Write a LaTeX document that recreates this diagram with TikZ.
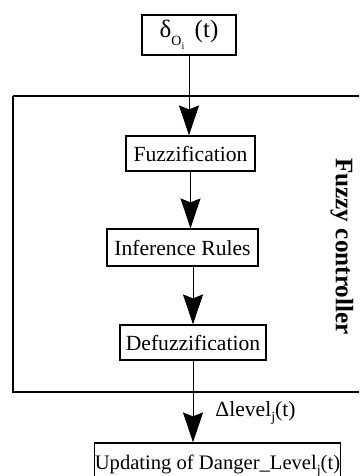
\documentclass[tikz,border=0pt]{standalone}
\usepackage{fontspec}
\setmainfont{Liberation Serif}
\usetikzlibrary{arrows.meta}

\tikzset{
  block/.style={draw, line width=0.6pt, inner sep=0pt, align=center,
                font=\fontsize{10.8}{12}\selectfont},
  flow/.style={line width=0.5pt, -{Stealth[length=15pt, width=10pt, inset=2pt]}},
  frameline/.style={draw, line width=1pt},
}

\begin{document}
\begin{tikzpicture}[x=0.5pt, y=-0.5pt]
  \useasboundingbox (0,0) rectangle (359,476);
  \begin{scope}
    \clip (0,0) rectangle (359,476);

    % controller frame (its right side runs off the page)
    \draw[frameline] (13,96) -- (400,96) (13,96) -- (13,392) -- (400,392);

    % blocks
    \node[block, minimum width=47pt, minimum height=20pt, font=\fontsize{12.5}{14}\selectfont]
      (src) at (189,35) {δ\raisebox{-0.7ex}{\scriptsize O\raisebox{-0.6ex}{\tiny i}}\, (t)};
    \node[block, minimum width=64.5pt, minimum height=17.5pt] (fuzz) at (190.5,153.5) {Fuzzification};
    \node[block, minimum width=75.5pt, minimum height=18.5pt] (infer) at (182.5,247.5) {Inference Rules};
    \node[block, minimum width=73pt, minimum height=17.5pt] (defuzz) at (193,342.5) {Defuzzification};
    \node[block, minimum width=120.5pt, minimum height=23pt, font=\fontsize{10.3}{12}\selectfont]
      (update) at (217.5,466)
      {\raisebox{1.8pt}{Updating of Danger\_Level\raisebox{-0.5ex}{\scriptsize j}(t)}};

    % side label of the controller
    \node[rotate=-90, font=\bfseries\fontsize{12.6}{14}\selectfont] (fc) at (342,246.5) {Fuzzy controller};

    % connectors
    \draw[flow] (src.south) -- (src.south |- fuzz.north);
    \draw[flow] (fuzz.south) -- (fuzz.south |- infer.north);
    \draw[flow] (defuzz.north |- infer.south) -- (defuzz.north);
    \draw[flow] (defuzz.south) -- (defuzz.south |- update.north);

    % output label
    \node[font=\fontsize{10.8}{12}\selectfont, anchor=west, inner sep=0pt] (dlabel) at (215,413)
      {Δlevel\raisebox{-0.5ex}{\scriptsize j}(t)};
  \end{scope}
\end{tikzpicture}
\end{document}
